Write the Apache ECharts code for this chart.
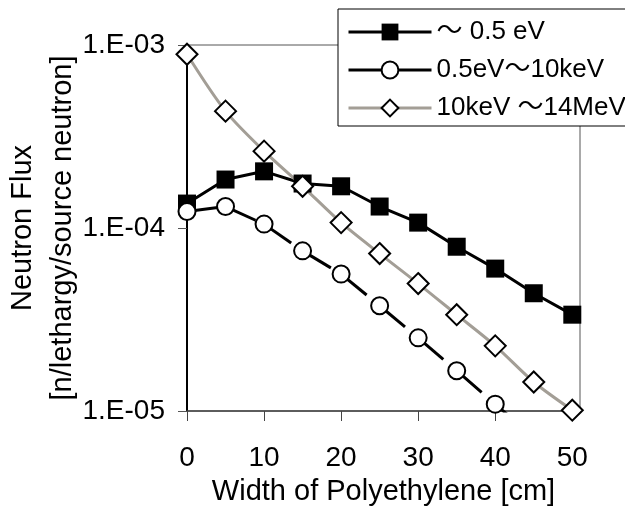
<!DOCTYPE html>
<html lang="ja">
<head>
  <meta charset="UTF-8">
  <title>Neutron Flux</title>
  <script src="https://cdn.jsdelivr.net/npm/echarts@6/dist/echarts.min.js"></script>
  <style>
    html, body { margin: 0; padding: 0; background: #fff; }
  </style>
</head>
<body>
    <div id="main" style="width: 625px;height:511px;"></div>
    <script type="text/javascript">
        // 横軸 (cm)
        var widths = [0, 5, 10, 15, 20, 25, 30, 35, 40, 45, 50];
        var xTicks = [0, 10, 20, 30, 40, 50];
        var seriesNames = ['～ 0.5 eV', '0.5eV～10keV', '10keV ～14MeV'];
        // 読み取り値
        var thermal = [1.36e-4, 1.84e-4, 2.04e-4, 1.75e-4, 1.69e-4, 1.31e-4, 1.07e-4, 7.9e-5, 6.0e-5, 4.4e-5, 3.36e-5];
        var epithermal = [1.23e-4, 1.31e-4, 1.05e-4, 7.5e-5, 5.6e-5, 3.76e-5, 2.51e-5, 1.66e-5, 1.09e-5, 7.2e-6];
        var fast = [8.9e-4, 4.35e-4, 2.63e-4, 1.69e-4, 1.07e-4, 7.25e-5, 4.97e-5, 3.36e-5, 2.27e-5, 1.44e-5, 1.01e-5];

        function pairs(vals) {
            var out = [];
            for (var i = 0; i < vals.length; i++) {
                out.push([widths[i], vals[i]]);
            }
            return out;
        }

        var font = "'Liberation Sans', Arial, 'Noto Sans CJK JP', sans-serif";
        var myChart = echarts.init(document.getElementById('main'));

        var series = [{
            name: seriesNames[0],
            type: 'line',
            data: pairs(thermal),
            symbol: 'rect',
            symbolSize: 18,
            itemStyle: { color: '#000' },
            lineStyle: { color: '#000', width: 3 }
        }];

        // 破線は区間ごとに描く (Excel と同じく点ごとに破線が始まる)
        var epiPts = pairs(epithermal);
        for (var i = 0; i < epiPts.length - 1; i++) {
            series.push({
                type: 'line',
                data: [epiPts[i], epiPts[i + 1]],
                showSymbol: false,
                silent: true,
                lineStyle: { color: '#000', width: 3, type: [33, 18] }
            });
        }

        series.push({
            name: seriesNames[1],
            type: 'line',
            data: epiPts,
            symbol: 'circle',
            symbolSize: 17,
            itemStyle: { color: '#fff', borderColor: '#000', borderWidth: 2 },
            lineStyle: { color: '#000', width: 3, opacity: 0 }
        }, {
            name: seriesNames[2],
            type: 'line',
            data: pairs(fast),
            smooth: 0.3,
            symbol: 'diamond',
            symbolSize: 21,
            itemStyle: { color: '#fff', borderColor: '#000', borderWidth: 2 },
            lineStyle: { color: '#a39e96', width: 3 }
        });

        var option = {
            animation: false,
            textStyle: { fontFamily: font, color: '#000' },
            grid: {
                left: 187, right: 45, top: 45, bottom: 100,
                outerBoundsMode: 'none',
                containLabel: false,
                show: true, borderColor: '#555', borderWidth: 1
            },
            legend: {
                orient: 'vertical',
                left: 338, top: 9,
                padding: [10, 12, 5, 9],
                itemGap: 12,
                itemWidth: 83,
                itemHeight: 21,
                borderColor: '#000',
                borderWidth: 1,
                backgroundColor: '#fff',
                lineStyle: { width: 3, opacity: 1, type: 'solid' },
                textStyle: { fontSize: 26, fontFamily: font, color: '#000' },
                data: seriesNames
            },
            xAxis: {
                type: 'value',
                min: 0, max: 51, interval: 10,
                name: 'Width of Polyethylene [cm]',
                nameLocation: 'middle',
                nameGap: 66,
                nameMoveOverlap: false,
                nameTextStyle: { fontSize: 29, color: '#000', fontFamily: font },
                axisLine: { lineStyle: { color: '#444', width: 1.5 } },
                axisTick: { show: true, length: 10, lineStyle: { color: '#444' }, customValues: xTicks },
                axisLabel: { fontSize: 28, color: '#000', margin: 33, customValues: xTicks },
                splitLine: { show: false }
            },
            yAxis: {
                type: 'log',
                logBase: 10,
                min: 1e-5, max: 1e-3,
                name: 'Neutron Flux\n[n/lethargy/source neutron]',
                nameLocation: 'middle',
                nameRotate: 90,
                nameGap: 104,
                nameMoveOverlap: false,
                nameTextStyle: { fontSize: 29, lineHeight: 40, color: '#000', fontFamily: font },
                axisLine: { show: true, lineStyle: { color: '#000', width: 2 } },
                axisTick: { show: true, length: 9, lineStyle: { color: '#555' } },
                minorTick: { show: false },
                axisLabel: {
                    fontSize: 28, color: '#000', margin: 22,
                    formatter: function (v) {
                        var e = Math.round(Math.log(v) / Math.LN10);
                        return '1.E-0' + (-e);
                    }
                },
                splitLine: { show: false }
            },
            series: series
        };

        myChart.setOption(option);
    </script>
</body>
</html>
